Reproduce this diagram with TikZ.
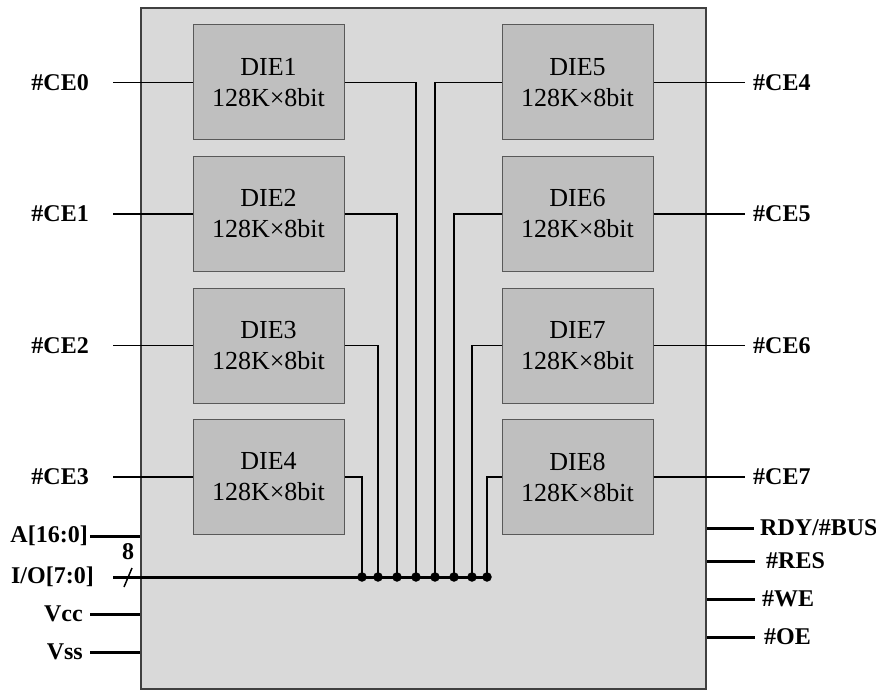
\documentclass[tikz,border=0pt]{standalone}
\usepackage{fontspec}
\setmainfont{Liberation Serif}
\begin{document}
\begin{tikzpicture}[x=1pt,y=-1pt,
  chipbox/.style={draw=black!75,fill=black!15,line width=1.2pt,minimum width=565pt,minimum height=681pt,inner sep=0pt},
  diebox/.style={draw=black!65,fill=black!25,line width=1pt,minimum width=151pt,minimum height=115pt,inner sep=0pt,align=center,font=\fontsize{26}{31}\selectfont},
  lab/.style={inner sep=0pt,font=\fontsize{24}{26}\selectfont\bfseries},
  wire/.style={line width=1.5pt},
  pin/.style={line width=3pt},
  dot/.style={circle,fill=black,inner sep=0pt,minimum size=9.5pt}]
\useasboundingbox (0,0) rectangle (876,690);
\node[chipbox] (chip) at (423.5,348.5) {};
% dies
\foreach \i/\y in {1/82.5,2/214,3/345.5,4/477}{
  \node[diebox] (d\i) at (268.5,\y) {DIE\i\\128K×8bit};
}
\foreach \i/\y in {5/82.5,6/214,7/345.5,8/477}{
  \node[diebox] (d\i) at (577.5,\y) {DIE\i\\128K×8bit};
}
% bus coordinates
\foreach \i/\x in {4/362,3/378,2/397,1/416,5/435,6/454,7/472,8/487}{
  \coordinate (b\i) at (\x,577);
}
\node[lab,anchor=east] (io) at (94,577) {I/O[7:0]};
\coordinate (busstart) at (113,577);
\draw[pin] (busstart) -- (b8);
\foreach \i in {1,...,8}{
  \draw[wire] (d\i.\ifnum\i<5 east\else west\fi) -| (b\i);
  \node[dot] at (b\i) {};
}
% CE labels left
\foreach \i/\n/\y in {1/0/82.5,2/1/214,3/2/345.5,4/3/477}{
  \node[lab,anchor=east] (ce\n) at (89,\y) {\#CE\n};
  \draw[wire] ([xshift=24pt]ce\n.east) -- (d\i.west);
}
\foreach \i/\n/\y in {5/4/82.5,6/5/214,7/6/345.5,8/7/477}{
  \node[lab,anchor=west] (ce\n) at (753,\y) {\#CE\n};
  \draw[wire] (d\i.east) -- ([xshift=-8pt]ce\n.west);
}
% left pins
\node[lab,anchor=east] (A) at (88,536) {A[16:0]};
\draw[pin] ([xshift=2pt]A.east) -- (A.east -| chip.west);
\node[lab,anchor=east] (vcc) at (83,614) {Vcc};
\draw[pin] ([xshift=7pt]vcc.east) -- (vcc.east -| chip.west);
\node[lab,anchor=east] (vss) at (83,652) {Vss};
\draw[pin] ([xshift=7pt]vss.east) -- (vss.east -| chip.west);
\node[lab] (eight) at (128,552) {8};
\draw[line width=1.5pt] (124,587) -- (132,568);
% right pins
\node[lab,anchor=west] (rdy) at (760,528) {RDY/\#BUSY};
\draw[pin] (rdy.west -| chip.east) -- ([xshift=-6pt]rdy.west);
\node[lab,anchor=west] (res) at (766,561) {\#RES};
\draw[pin] (res.west -| chip.east) -- ([xshift=-11pt]res.west);
\node[lab,anchor=west] (we) at (762,599) {\#WE};
\draw[pin] (we.west -| chip.east) -- ([xshift=-7pt]we.west);
\node[lab,anchor=west] (oe) at (764,637) {\#OE};
\draw[pin] (oe.west -| chip.east) -- ([xshift=-9pt]oe.west);
\end{tikzpicture}
\end{document}
